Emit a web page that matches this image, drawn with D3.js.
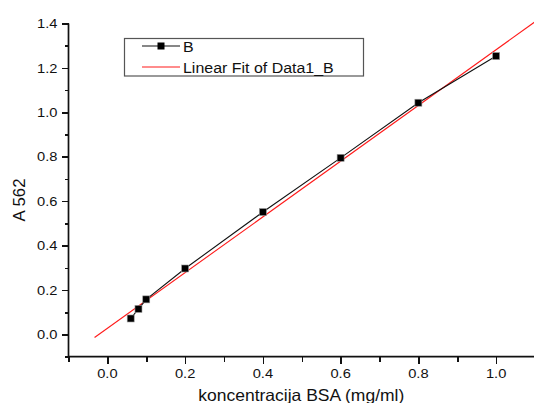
<!DOCTYPE html>
<html>
<head>
<meta charset="utf-8">
<script src="https://d3js.org/d3.v7.min.js"></script>
<style>
  body { margin: 0; background: #fff; }
  text { font-family: "Liberation Sans", Arial, sans-serif; fill: #111; }
  .ax line { stroke: #111; stroke-width: 1.5px; shape-rendering: crispEdges; }
  .ax path.domain { display: none; }
</style>
</head>
<body>
<div id="chart"></div>
<script>
// BSA calibration: concentration (mg/ml) vs absorbance at 562 nm
const concentration = [0.06, 0.08, 0.1, 0.2, 0.4, 0.6, 0.8, 1.0];
const absorbance = [0.072, 0.115, 0.158, 0.297, 0.551, 0.795, 1.043, 1.253];
const fitRange = [-0.033, 1.1];
const xTicks = [0.0, 0.2, 0.4, 0.6, 0.8, 1.0];
const xMinorTicks = [-0.1, 0.1, 0.3, 0.5, 0.7, 0.9];
const yTicks = [0.0, 0.2, 0.4, 0.6, 0.8, 1.0, 1.2, 1.4];
const yMinorTicks = [-0.1, 0.1, 0.3, 0.5, 0.7, 0.9, 1.1, 1.3];
const legendLabels = ["B", "Linear Fit of Data1_B"];

const width = 534, height = 403;
const svg = d3.select("#chart").append("svg")
    .attr("width", width).attr("height", height);

const x = d3.scaleLinear().domain([-0.1, 1.1]).range([68.5, 535]);
const y = d3.scaleLinear().domain([-0.1, 1.4]).range([356.7, 23.4]);

// least squares fit
const mx = d3.mean(concentration), my = d3.mean(absorbance);
let sxy = 0, sxx = 0;
concentration.forEach((c, i) => {
    sxy += (c - mx) * (absorbance[i] - my);
    sxx += (c - mx) * (c - mx);
});
const slope = sxy / sxx;
const intercept = my - slope * mx;

// text is a bit wider than Arial in the original, so stretch it
function wideText(parent, tx, ty, size, anchor, str, sx, rot) {
    return parent.append("text")
        .attr("transform", `translate(${tx},${ty})` + (rot ? ` rotate(${rot})` : "") + ` scale(${sx},1)`)
        .attr("text-anchor", anchor).attr("font-size", size)
        .text(str);
}

// x axis
const x0 = y(-0.1);
svg.append("line").attr("x1", x(-0.1)).attr("x2", width).attr("y1", x0).attr("y2", x0)
    .attr("stroke", "#111").attr("stroke-width", 1.7);
svg.append("g").attr("class", "ax").attr("transform", `translate(0,${x0})`)
    .call(d3.axisBottom(x).tickValues(xTicks).tickSize(7).tickFormat(""));
svg.append("g").attr("class", "ax").attr("transform", `translate(0,${x0})`)
    .call(d3.axisBottom(x).tickValues(xMinorTicks).tickSize(5).tickFormat(""));
xTicks.forEach(v => {
    wideText(svg, x(v), x0 + 21, 13, "middle", d3.format(".1f")(v), 1.13);
});
wideText(svg, (x(-0.1) + width) / 2, 400.5, 16.5, "middle", "koncentracija BSA (mg/ml)", 1.06);

// y axis
const y0 = x(-0.1);
svg.append("line").attr("x1", y0).attr("x2", y0).attr("y1", y(-0.1)).attr("y2", y(1.4))
    .attr("stroke", "#111").attr("stroke-width", 1.7);
svg.append("g").attr("class", "ax").attr("transform", `translate(${y0},0)`)
    .call(d3.axisLeft(y).tickValues(yTicks).tickSize(7).tickFormat(""));
svg.append("g").attr("class", "ax").attr("transform", `translate(${y0},0)`)
    .call(d3.axisLeft(y).tickValues(yMinorTicks).tickSize(4).tickFormat(""));
yTicks.forEach(v => {
    wideText(svg, y0 - 11, y(v) + 4.7, 13, "end", d3.format(".1f")(v), 1.13);
});
wideText(svg, 25, 200, 16, "middle", "A 562", 1.05, -90);

// fit line
svg.append("line")
    .attr("x1", x(fitRange[0])).attr("y1", y(intercept + slope * fitRange[0]))
    .attr("x2", x(fitRange[1])).attr("y2", y(intercept + slope * fitRange[1]))
    .attr("stroke", "#ff1a1a").attr("stroke-width", 1.1);

// data line + markers
const pts = concentration.map((c, i) => [c, absorbance[i]]);
svg.append("path")
    .attr("d", d3.line().x(d => x(d[0])).y(d => y(d[1]))(pts))
    .attr("fill", "none").attr("stroke", "#111").attr("stroke-width", 1.1);
svg.selectAll("rect.pt").data(pts).enter().append("rect")
    .attr("class", "pt")
    .attr("x", d => x(d[0]) - 3.5).attr("y", d => y(d[1]) - 3.5)
    .attr("width", 7).attr("height", 7)
    .attr("fill", "#000").attr("stroke", "#999").attr("stroke-width", 0.6);

// legend
const lg = svg.append("g");
lg.append("rect").attr("x", 124.5).attr("y", 38.5).attr("width", 239).attr("height", 37.5)
    .attr("fill", "#fff").attr("stroke", "#555").attr("stroke-width", 1.2);
lg.append("line").attr("x1", 142).attr("x2", 180).attr("y1", 46).attr("y2", 46)
    .attr("stroke", "#111").attr("stroke-width", 1.1);
lg.append("rect").attr("x", 157.5).attr("y", 42.5).attr("width", 7).attr("height", 7)
    .attr("fill", "#000");
lg.append("line").attr("x1", 142).attr("x2", 180).attr("y1", 67).attr("y2", 67)
    .attr("stroke", "#ff1a1a").attr("stroke-width", 1.1);
legendLabels.forEach((t, i) => {
    wideText(lg, 183, (i === 0 ? 46 : 67) + 5.5, 15.5, "start", t, 1.03);
});
</script>
</body>
</html>
